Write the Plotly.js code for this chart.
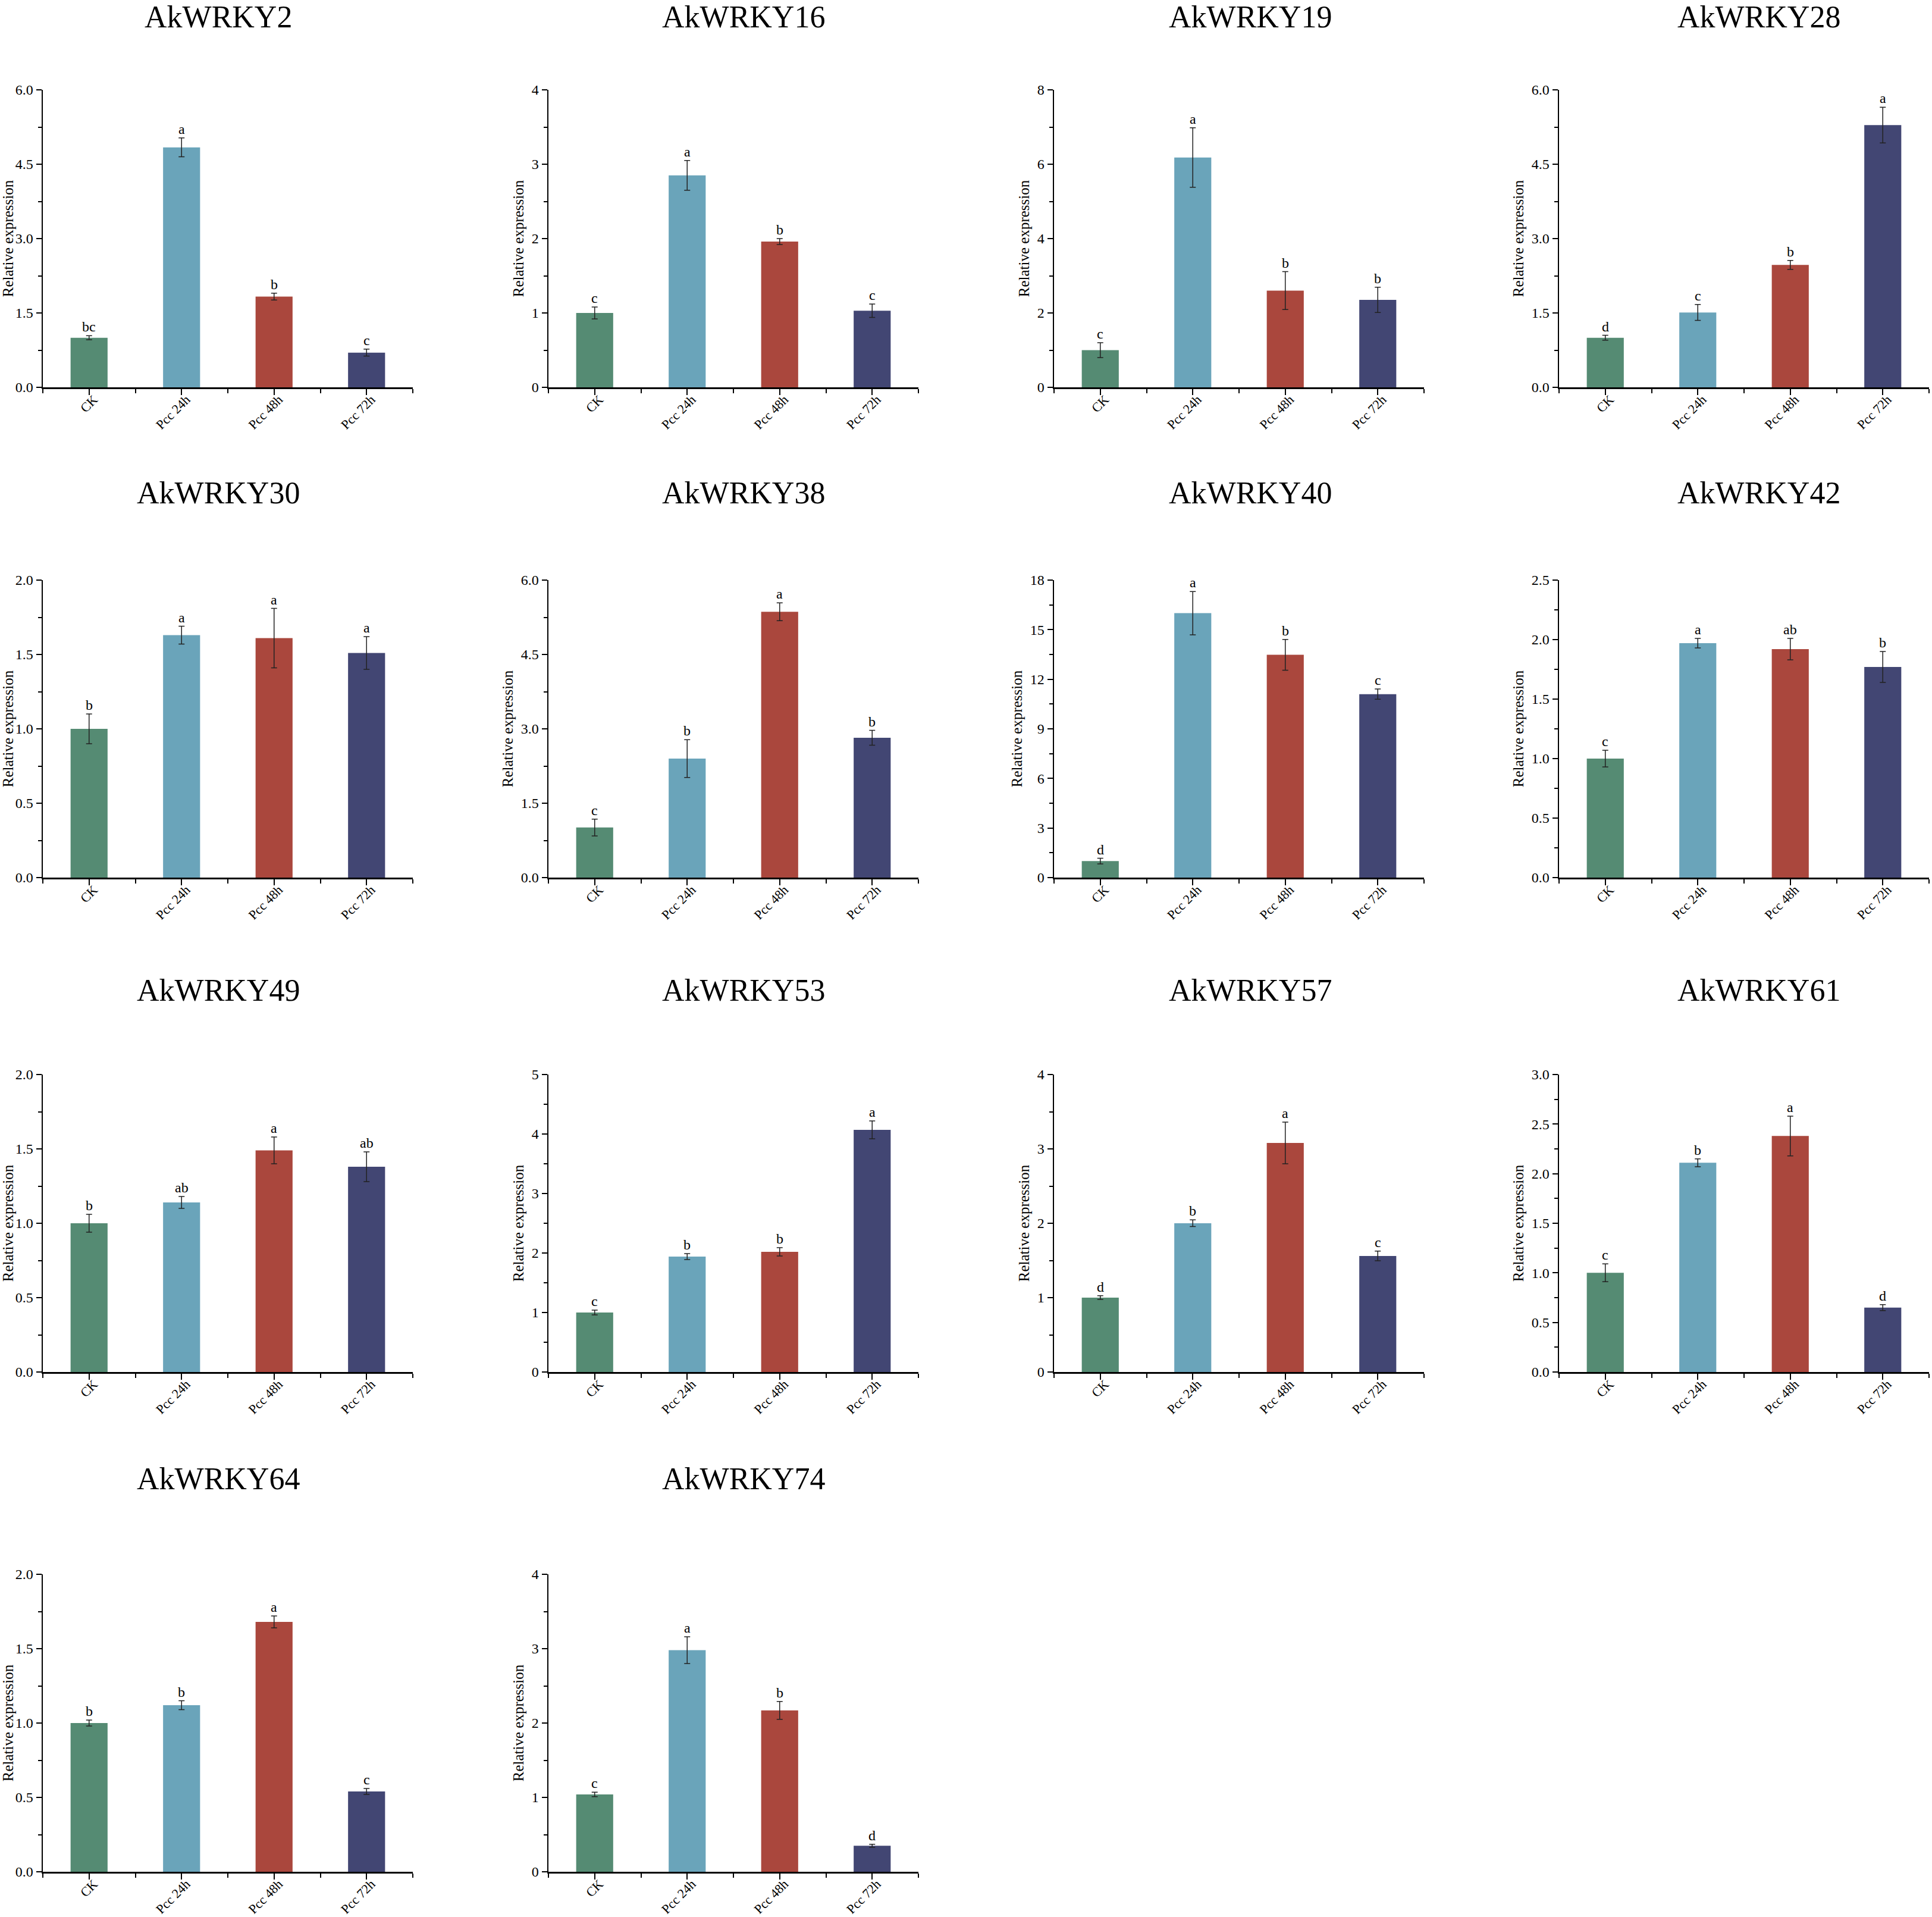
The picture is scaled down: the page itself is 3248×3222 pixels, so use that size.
<!DOCTYPE html>
<html>
<head>
<meta charset="utf-8">
<script src="https://cdn.plot.ly/plotly-3.0.1.min.js"></script>
<style>html,body{margin:0;padding:0;background:#fff}</style>
</head>
<body>
<div id="myDiv" style="width:3248px;height:3222px"></div>
<script>
var genes = ['AkWRKY2', 'AkWRKY16', 'AkWRKY19', 'AkWRKY28',
             'AkWRKY30', 'AkWRKY38', 'AkWRKY40', 'AkWRKY42',
             'AkWRKY49', 'AkWRKY53', 'AkWRKY57', 'AkWRKY61',
             'AkWRKY64', 'AkWRKY74']
var groups = ['CK', 'Pcc 24h', 'Pcc 48h', 'Pcc 72h']

// relative expression, one row per gene
var means = [
  [1.00, 4.84, 1.83, 0.70],
  [1.00, 2.85, 1.96, 1.03],
  [1.00, 6.18, 2.60, 2.35],
  [1.00, 1.51, 2.47, 5.29],
  [1.00, 1.63, 1.61, 1.51],
  [1.01, 2.40, 5.36, 2.82],
  [1.00, 16.0, 13.48, 11.10],
  [1.00, 1.97, 1.92, 1.77],
  [1.00, 1.14, 1.49, 1.38],
  [1.00, 1.94, 2.02, 4.07],
  [1.00, 2.00, 3.08, 1.56],
  [1.00, 2.11, 2.38, 0.65],
  [1.00, 1.12, 1.68, 0.54],
  [1.04, 2.98, 2.17, 0.35]
]
var errs = [
  [0.04, 0.19, 0.07, 0.07],
  [0.08, 0.20, 0.04, 0.09],
  [0.20, 0.80, 0.51, 0.34],
  [0.05, 0.16, 0.09, 0.36],
  [0.10, 0.06, 0.20, 0.11],
  [0.17, 0.38, 0.18, 0.15],
  [0.17, 1.31, 0.93, 0.31],
  [0.07, 0.04, 0.09, 0.13],
  [0.06, 0.04, 0.09, 0.10],
  [0.04, 0.05, 0.07, 0.15],
  [0.025, 0.045, 0.28, 0.065],
  [0.09, 0.04, 0.20, 0.03],
  [0.02, 0.03, 0.04, 0.02],
  [0.03, 0.18, 0.12, 0.02]
]
var letters = [
  ['bc', 'a', 'b', 'c'],
  ['c', 'a', 'b', 'c'],
  ['c', 'a', 'b', 'b'],
  ['d', 'c', 'b', 'a'],
  ['b', 'a', 'a', 'a'],
  ['c', 'b', 'a', 'b'],
  ['d', 'a', 'b', 'c'],
  ['c', 'a', 'ab', 'b'],
  ['b', 'ab', 'a', 'ab'],
  ['c', 'b', 'b', 'a'],
  ['d', 'b', 'a', 'c'],
  ['c', 'b', 'a', 'd'],
  ['b', 'b', 'a', 'c'],
  ['c', 'a', 'b', 'd']
]
var yMax = [6, 4, 8, 6, 2, 6, 18, 2.5, 2, 5, 4, 3, 2, 4]
var yStep = [1.5, 1, 2, 1.5, 0.5, 1.5, 3, 0.5, 0.5, 1, 1, 0.5, 0.5, 1]

var colors = ['#558b73', '#6aa4ba', '#aa473d', '#424673']
var serif = 'Liberation Serif, Times New Roman, serif'

// page geometry in px
var W = 3248, H = 3222
var colLeft = [72, 922, 1772, 2621]
var rowTop = [151, 975, 1806, 2646]
var plotW = 622, plotH = 500
var titleX = [367, 1250, 2102, 2957]
var titleBase = [47, 847, 1683, 2504]

var data = []
var layout = {
  width: W, height: H,
  margin: {l: 0, r: 0, t: 0, b: 0},
  paper_bgcolor: '#fff', plot_bgcolor: '#fff',
  showlegend: false,
  font: {family: serif, color: '#000'},
  annotations: []
}

for (var i = 0; i < genes.length; i++) {
  var n = i + 1
  var sfx = n == 1 ? '' : String(n)
  var col = i % 4, row = Math.floor(i / 4)
  var xs = groups.map(function(g, k) { return k + 1 })

  data.push({
    type: 'bar',
    x: xs,
    y: means[i],
    width: 0.4,
    marker: {color: colors},
    error_y: {type: 'data', array: errs[i], color: '#222', thickness: 1.5, width: 5},
    xaxis: 'x' + sfx,
    yaxis: 'y' + sfx,
    hoverinfo: 'y'
  })

  var x0 = colLeft[col] / W, x1 = (colLeft[col] + plotW) / W
  var y1 = 1 - rowTop[row] / H, y0 = 1 - (rowTop[row] + plotH) / H

  layout['xaxis' + sfx] = {
    domain: [x0, x1],
    anchor: 'y' + sfx,
    range: [0.5, 4.5],
    tickmode: 'array',
    tickvals: xs,
    ticktext: groups,
    tickangle: -45,
    ticklabelstandoff: -14,
    ticklabelshift: 8,
    tickfont: {family: serif, size: 22, color: '#000'},
    ticks: 'outside', ticklen: 10, tickwidth: 2, tickcolor: '#000',
    minor: {ticks: 'outside', tick0: 0.5, dtick: 1, ticklen: 7, tickwidth: 2, tickcolor: '#000'},
    showline: true, linecolor: '#000', linewidth: 3,
    showgrid: false, zeroline: false, fixedrange: true
  }
  layout['yaxis' + sfx] = {
    domain: [y0, y1],
    anchor: 'x' + sfx,
    range: [0, yMax[i]],
    tick0: 0,
    dtick: yStep[i],
    tickformat: yStep[i] % 1 ? '.1f' : 'd',
    tickfont: {family: serif, size: 24, color: '#000'},
    ticks: 'outside', ticklen: 9, tickwidth: 2, tickcolor: '#000',
    minor: {ticks: 'outside', dtick: yStep[i] / 2, ticklen: 6, tickwidth: 2, tickcolor: '#000'},
    showline: true, linecolor: '#000', linewidth: 2.5,
    showgrid: false, zeroline: false, fixedrange: true,
    title: {text: 'Relative expression', font: {family: serif, size: 25, color: '#000'}, standoff: 6}
  }

  // panel title
  layout.annotations.push({
    text: genes[i],
    xref: 'paper', yref: 'paper',
    x: titleX[col] / W, y: 1 - (titleBase[row] + 12) / H,
    xanchor: 'center', yanchor: 'bottom',
    showarrow: false,
    font: {family: serif, size: 52, color: '#000'}
  })

  // significance letters
  for (var k = 0; k < 4; k++) {
    layout.annotations.push({
      text: letters[i][k],
      xref: 'x' + sfx, yref: 'y' + sfx,
      x: xs[k], y: means[i][k] + errs[i][k],
      xanchor: 'center', yanchor: 'bottom',
      showarrow: false,
      font: {family: serif, size: 24, color: '#000'}
    })
  }
}

Plotly.newPlot('myDiv', data, layout, {displayModeBar: false, staticPlot: true})
</script>
</body>
</html>
